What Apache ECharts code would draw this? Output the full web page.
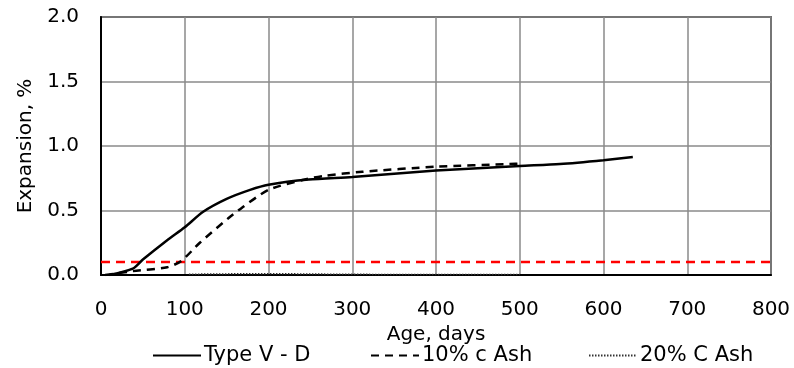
<!DOCTYPE html>
<html>
<head>
<meta charset="utf-8">
<script src="https://cdn.jsdelivr.net/npm/echarts@6/dist/echarts.min.js"></script>
<style>
  html, body { margin: 0; padding: 0; background: #fff; }
  #chart { width: 794px; height: 368px; }
</style>
</head>
<body>
<div id="chart"></div>
<script>
// Expansion vs age for three mixtures
const typeVDays   = [10, 38, 50, 79, 100, 122, 150, 178, 200, 248, 300, 400, 500, 548, 600, 635];
const typeVExp    = [0, 0.05, 0.12, 0.27, 0.37, 0.49, 0.59, 0.66, 0.70, 0.74, 0.76, 0.81, 0.845, 0.86, 0.89, 0.915];

const ash10Days   = [5, 38, 79, 96, 118, 152, 168, 200, 243, 268, 312, 400, 488, 503];
const ash10Exp    = [0, 0.03, 0.06, 0.11, 0.25, 0.44, 0.52, 0.66, 0.74, 0.77, 0.80, 0.84, 0.86, 0.865];

const ash20Days   = [105, 140, 175, 210, 245, 280, 315, 350, 385, 420, 455, 500];
const ash20Exp    = [0.006, 0.008, 0.01, 0.01, 0.008, 0.006, 0.005, 0.004, 0.004, 0.003, 0.003, 0.003];

// Horizontal limit line
const limitDays   = [0, 800];
const limitExp    = [0.1, 0.1];

const seriesNames = ['Type V - D', '10% c Ash', '20% C Ash'];
const xTicks = { min: 0, max: 800, step: 100 };
const yTicks = { min: 0, max: 2, step: 0.5 };

const pair = (xs, ys) => xs.map((x, i) => [x, ys[i]]);
const FONT = 'DejaVu Sans';

const chart = echarts.init(document.getElementById('chart'), null, { renderer: 'canvas' });

const legendBase = {
  top: 345,
  padding: 0,
  itemWidth: 48,
  itemHeight: 14,
  itemGap: 0,
  itemStyle: { opacity: 0 },
  textStyle: { fontFamily: FONT, fontSize: 21, color: '#000', padding: [0, 0, 0, -2] }
};

chart.setOption({
  animation: false,
  backgroundColor: '#fff',
  grid: {
    left: 101, right: 23, top: 17, bottom: 93,
    show: true, borderColor: '#000', borderWidth: 1.5
  },
  legend: [
    Object.assign({ left: 152, data: [seriesNames[0]] }, legendBase),
    Object.assign({ left: 370, data: [seriesNames[1]] }, legendBase),
    Object.assign({ left: 588, data: [seriesNames[2]] }, legendBase)
  ],
  xAxis: {
    type: 'value',
    min: xTicks.min, max: xTicks.max, interval: xTicks.step,
    name: 'Age, days',
    nameLocation: 'middle',
    nameGap: 41,
    nameTextStyle: { fontFamily: FONT, fontSize: 20, color: '#000' },
    axisLine: { lineStyle: { color: '#000', width: 2 } },
    axisTick: { show: false },
    axisLabel: { fontFamily: FONT, fontSize: 20, color: '#000', margin: 25 },
    splitLine: { lineStyle: { color: '#8a8a8a', width: 1.5 } }
  },
  yAxis: {
    type: 'value',
    min: yTicks.min, max: yTicks.max, interval: yTicks.step,
    name: 'Expansion, %',
    nameLocation: 'middle',
    nameGap: 60,
    nameTextStyle: { fontFamily: FONT, fontSize: 20, color: '#000' },
    axisLine: { show: true, lineStyle: { color: '#000', width: 2 } },
    axisTick: { show: false },
    axisLabel: {
      fontFamily: FONT, fontSize: 20, color: '#000', margin: 22,
      formatter: v => v.toFixed(1)
    },
    splitLine: { lineStyle: { color: '#8a8a8a', width: 1.5 } }
  },
  series: [
    {
      name: seriesNames[0], type: 'line', data: pair(typeVDays, typeVExp),
      symbol: 'none', smooth: 0.25, z: 5,
      lineStyle: { color: '#000', width: 2.5, type: 'solid' },
      itemStyle: { color: '#000' }
    },
    {
      name: seriesNames[1], type: 'line', data: pair(ash10Days, ash10Exp),
      symbol: 'none', smooth: 0.25, z: 5,
      lineStyle: { color: '#000', width: 2.5, type: [8, 6] },
      itemStyle: { color: '#000' }
    },
    {
      name: seriesNames[2], type: 'line', data: pair(ash20Days, ash20Exp),
      symbol: 'none', z: 5,
      lineStyle: { color: '#333', width: 1.5, type: [1.5, 1.5] },
      itemStyle: { color: '#333' }
    },
    {
      name: 'limit', type: 'line', data: pair(limitDays, limitExp),
      symbol: 'none', z: 4, silent: true,
      lineStyle: { color: '#ff0000', width: 2.5, type: [9, 6] }
    }
  ]
});
</script>
</body>
</html>
